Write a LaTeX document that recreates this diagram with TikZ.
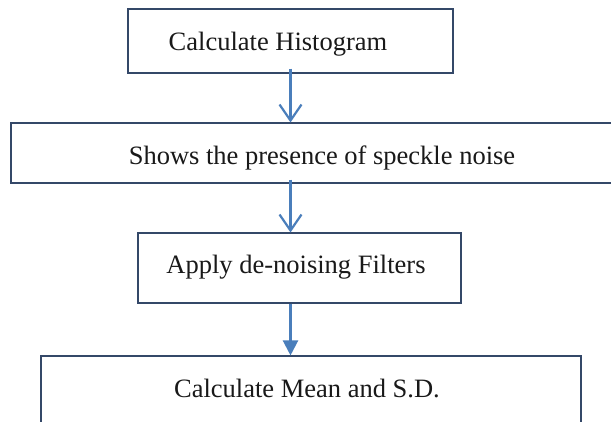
\documentclass[tikz,border=0pt]{standalone}
\usepackage{fontspec}
\setmainfont{Liberation Serif}
\usetikzlibrary{arrows.meta}
\definecolor{boxline}{RGB}{52,72,104}
\definecolor{arrblue}{RGB}{74,126,187}
\begin{document}
\begin{tikzpicture}[x=1pt,y=-1pt,
  box/.style={draw=boxline, line width=1.1pt, rectangle, inner sep=0pt},
  lbl/.style={anchor=base, inner sep=0pt, font=\fontsize{26.5}{30}\selectfont, text=black!90},
  openarrow/.style={draw=arrblue, line width=2.2pt, -{Straight Barb[length=16pt,width=22pt]}},
  fillarrow/.style={draw=arrblue, line width=2.2pt, -{Triangle[length=15pt,width=15pt]}}]
\useasboundingbox (0,0) rectangle (611,421);
\clip (0,0) rectangle (611,421);
\fill[white] (0,0) rectangle (611,421);
% boxes
\node[box, minimum width=325pt, minimum height=64pt] (b1) at (290.5,41) {};
\node[box, minimum width=622pt, minimum height=60pt] (b2) at (322,153) {};
\node[box, minimum width=323pt, minimum height=70pt] (b3) at (299.5,268) {};
\node[box, minimum width=540pt, minimum height=120pt] (b4) at (311,416) {};
% labels
\node[lbl] (t1) at (278,50) {Calculate Histogram};
\node[lbl] (t2) at (322,164) {Shows the presence of speckle noise};
\node[lbl] (t3) at (296,273) {Apply de-noising Filters};
\node[lbl] (t4) at (307,397) {Calculate Mean and S.D.};
% connectors
\draw[openarrow] ([yshift=5pt]b1.south) -- (b1.south |- b2.north);
\draw[openarrow] ([yshift=4pt]b2.south -| b1.south) -- (b1.south |- b3.north);
\draw[fillarrow] (b3.south -| b1.south) -- (b1.south |- b4.north);
\end{tikzpicture}
\end{document}
